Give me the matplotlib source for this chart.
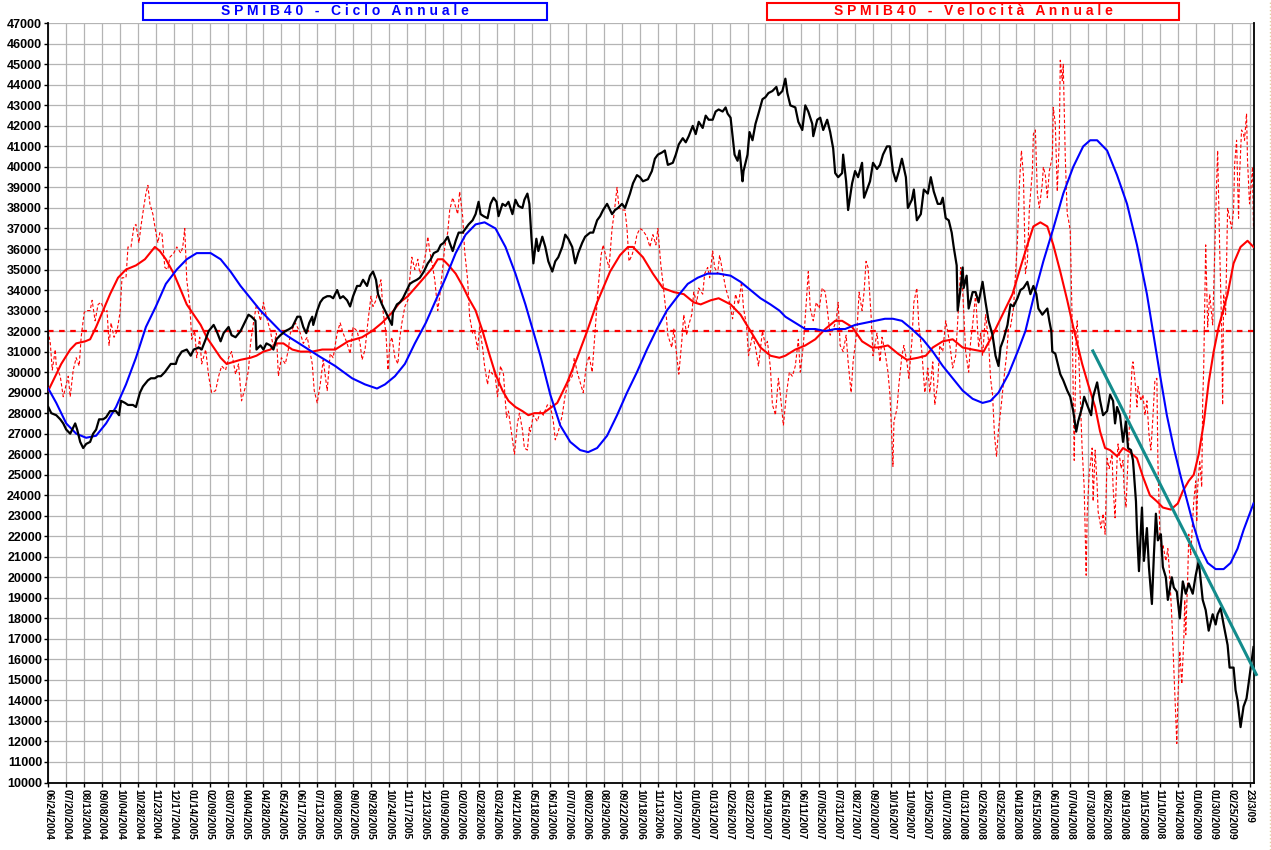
import matplotlib

matplotlib.use("Agg")
import matplotlib.pyplot as plt
import numpy as np
from matplotlib.lines import Line2D
from matplotlib.patches import Rectangle

plt.rcParams["font.family"] = ["Liberation Sans", "DejaVu Sans"]

# etichette dell'asse x (una ogni 18 giorni di borsa, l'ultima e' l'ultimo giorno)
DATE = [
    "06/24/2004", "07/20/2004", "08/13/2004", "09/08/2004", "10/04/2004", "10/28/2004",
    "11/23/2004", "12/17/2004", "01/14/2005", "02/09/2005", "03/07/2005", "04/04/2005",
    "04/28/2005", "05/24/2005", "06/17/2005", "07/13/2005", "08/08/2005", "09/02/2005",
    "09/28/2005", "10/24/2005", "11/17/2005", "12/13/2005", "01/09/2006", "02/02/2006",
    "02/28/2006", "03/24/2006", "04/21/2006", "05/18/2006", "06/13/2006", "07/07/2006",
    "08/02/2006", "08/29/2006", "09/22/2006", "10/18/2006", "11/13/2006", "12/07/2006",
    "01/05/2007", "01/31/2007", "02/26/2007", "03/22/2007", "04/19/2007", "05/16/2007",
    "06/11/2007", "07/05/2007", "07/31/2007", "08/27/2007", "09/20/2007", "10/16/2007",
    "11/09/2007", "12/05/2007", "01/07/2008", "01/31/2008", "02/26/2008", "03/25/2008",
    "04/18/2008", "05/15/2008", "06/10/2008", "07/04/2008", "07/30/2008", "08/26/2008",
    "09/19/2008", "10/15/2008", "11/10/2008", "12/04/2008", "01/06/2009", "01/30/2009",
    "02/25/2009", "23/3/09",
]
PASSO = 18
ULTIMO_GIORNO = 1206
FINE_ASSE = 1210.5

# (giorno di borsa, valore)
PREZZO = [
    (0, 28300), (3, 28000), (8, 27900), (12, 27700), (15, 27500), (18, 27200), (22, 27000),
    (25, 27300), (27, 27500), (29, 27200), (32, 26600), (35, 26300), (38, 26500), (42, 26600),
    (45, 27000), (48, 27200), (51, 27700), (55, 27700), (58, 27800), (62, 28100), (65, 28100),
    (68, 28100), (71, 27900), (73, 28600), (77, 28500), (80, 28400), (85, 28400), (88, 28300),
    (92, 29000), (95, 29300), (100, 29600), (103, 29700), (107, 29700), (110, 29800),
    (113, 29800), (117, 30000), (120, 30200), (123, 30400), (128, 30400), (130, 30700),
    (134, 31000), (139, 31100), (143, 30800), (146, 31100), (151, 31200), (154, 31100),
    (158, 31600), (161, 32000), (166, 32300), (169, 32000), (173, 31500), (176, 31900),
    (181, 32200), (184, 31800), (188, 31700), (193, 32000), (197, 32400), (201, 32800),
    (204, 32700), (208, 32500), (209, 31100), (213, 31300), (216, 31100), (219, 31400),
    (223, 31300), (226, 31100), (229, 31600), (233, 31800), (238, 32000), (242, 32100),
    (245, 32200), (250, 32700), (253, 32700), (256, 32200), (259, 31900), (262, 32400),
    (265, 32700), (266, 32300), (270, 33000), (273, 33400), (276, 33600), (280, 33700),
    (283, 33700), (286, 33600), (290, 34000), (293, 33600), (296, 33700), (300, 33500),
    (303, 33200), (306, 33700), (310, 34200), (313, 34200), (316, 34500), (320, 34200),
    (323, 34700), (326, 34900), (329, 34500), (331, 33800), (335, 33300), (338, 33000),
    (341, 32700), (345, 32300), (346, 32900), (350, 33300), (353, 33400), (356, 33600),
    (360, 34000), (363, 34300), (366, 34400), (370, 34500), (373, 34600), (377, 34900),
    (381, 35300), (384, 35500), (387, 35800), (391, 35900), (394, 36200), (397, 36300),
    (401, 36600), (403, 36300), (406, 35900), (409, 36400), (412, 36800), (416, 36800),
    (419, 37000), (422, 37200), (426, 37400), (429, 37700), (432, 38300), (434, 37700),
    (437, 37600), (441, 37500), (444, 38200), (447, 38500), (450, 38300), (452, 37600),
    (456, 38200), (459, 38100), (462, 38300), (466, 37700), (469, 38400), (472, 38100),
    (476, 38000), (478, 38400), (481, 38700), (483, 38200), (485, 36600), (487, 35300),
    (490, 36500), (492, 35900), (496, 36600), (499, 36100), (502, 35400), (506, 34900),
    (509, 35400), (512, 35600), (516, 36100), (519, 36700), (522, 36500), (526, 36100),
    (529, 35300), (532, 35800), (536, 36300), (539, 36600), (544, 36800), (547, 36800),
    (551, 37400), (554, 37600), (557, 37900), (561, 38200), (566, 37700), (569, 37900),
    (572, 38000), (576, 38200), (579, 38000), (584, 38700), (587, 39200), (591, 39600),
    (594, 39500), (597, 39300), (602, 39400), (606, 39800), (609, 40400), (612, 40600),
    (616, 40700), (619, 40800), (622, 40100), (627, 40200), (630, 40600), (633, 41100),
    (637, 41400), (640, 41200), (643, 41500), (647, 42000), (650, 41600), (653, 42200),
    (657, 41900), (660, 42500), (663, 42300), (667, 42300), (670, 42700), (673, 42800),
    (677, 42700), (680, 42900), (682, 42600), (685, 42400), (687, 41500), (689, 40600),
    (692, 40300), (694, 40800), (697, 39300), (698, 39800), (702, 40600), (704, 41700),
    (707, 41300), (710, 42100), (713, 42600), (717, 43300), (720, 43400), (723, 43600),
    (727, 43700), (731, 43900), (733, 43500), (737, 43700), (740, 44300), (742, 43600),
    (745, 43000), (750, 42900), (753, 42200), (757, 41800), (760, 43000), (763, 42700),
    (767, 42100), (768, 41500), (772, 42300), (775, 42400), (778, 41800), (782, 42300),
    (785, 41700), (788, 40900), (790, 39700), (793, 39500), (797, 39700), (798, 40600),
    (801, 39300), (803, 37900), (807, 39200), (810, 39800), (813, 39500), (817, 40200),
    (819, 38500), (822, 38900), (825, 39300), (828, 40200), (832, 39900), (835, 40100),
    (838, 40600), (842, 41000), (845, 41000), (848, 39800), (851, 39300), (854, 39800),
    (857, 40400), (861, 39500), (863, 38000), (867, 38400), (869, 38900), (872, 37400),
    (876, 37700), (879, 38900), (883, 38700), (886, 39500), (889, 38800), (893, 38200),
    (896, 38200), (898, 38500), (901, 37500), (904, 37400), (907, 36800), (909, 36100),
    (912, 35200), (913, 33000), (916, 34100), (918, 35100), (919, 34100), (922, 34700),
    (924, 33100), (928, 33900), (931, 33900), (934, 33400), (938, 34400), (941, 33400),
    (944, 32500), (948, 31800), (951, 30800), (954, 30300), (956, 31200), (959, 31600),
    (963, 32300), (966, 33300), (969, 33200), (973, 33600), (976, 34000), (979, 34100),
    (983, 34400), (986, 33800), (989, 34200), (992, 33800), (994, 33100), (998, 32800),
    (1003, 33100), (1005, 32500), (1007, 32000), (1008, 31000), (1011, 30900), (1016, 29900),
    (1019, 29600), (1023, 29100), (1026, 28800), (1029, 28100), (1032, 27100), (1034, 27600),
    (1038, 28300), (1040, 28800), (1043, 28400), (1047, 27900), (1049, 28800), (1053, 29500),
    (1056, 28600), (1059, 27900), (1063, 28100), (1066, 28900), (1069, 28600), (1071, 27500),
    (1073, 28300), (1076, 27900), (1079, 26600), (1082, 27600), (1084, 26300), (1087, 26200),
    (1089, 25700), (1092, 23700), (1093, 22300), (1095, 20300), (1098, 23400), (1100, 20800),
    (1103, 22400), (1105, 20500), (1108, 18700), (1110, 21100), (1112, 23100), (1114, 21800),
    (1117, 22100), (1119, 20500), (1122, 20000), (1124, 18900), (1128, 20000), (1130, 19500),
    (1133, 19300), (1136, 18000), (1139, 19800), (1142, 19200), (1145, 19700), (1149, 19200),
    (1152, 20100), (1155, 20800), (1159, 18900), (1162, 18400), (1165, 17400), (1169, 18200),
    (1172, 17700), (1174, 18200), (1177, 18500), (1180, 17700), (1184, 16700), (1186, 15600),
    (1190, 15600), (1192, 14500), (1194, 14000), (1197, 12700), (1200, 13700), (1203, 14100),
    (1205, 14800), (1208, 15900), (1210, 16600),
]

CICLO = [
    (0, 29200), (8, 28500), (18, 27500), (28, 27000), (38, 26800), (48, 26900), (58, 27500),
    (68, 28300), (78, 29400), (88, 30700), (98, 32200), (108, 33200), (118, 34300),
    (129, 35000), (139, 35500), (149, 35800), (156, 35800), (163, 35800), (173, 35500),
    (183, 34900), (193, 34200), (203, 33600), (213, 33000), (223, 32500), (233, 32000),
    (242, 31700), (255, 31300), (271, 30800), (288, 30300), (305, 29700), (318, 29400),
    (330, 29200), (338, 29400), (348, 29800), (358, 30400), (368, 31400), (379, 32400),
    (389, 33500), (399, 34600), (409, 35800), (419, 36700), (429, 37200), (438, 37300),
    (449, 37000), (459, 36100), (469, 34800), (479, 33300), (488, 31800), (494, 30800),
    (504, 28900), (514, 27400), (524, 26600), (534, 26200), (542, 26100), (551, 26300),
    (561, 26900), (571, 27900), (581, 29000), (591, 30000), (601, 31100), (611, 32100),
    (621, 33000), (632, 33700), (642, 34300), (652, 34600), (662, 34800), (673, 34800),
    (685, 34700), (695, 34400), (705, 34000), (715, 33600), (725, 33300), (734, 33000),
    (740, 32700), (750, 32400), (760, 32100), (770, 32100), (780, 32000), (790, 32100),
    (800, 32100), (810, 32300), (820, 32400), (830, 32500), (840, 32600), (848, 32600),
    (857, 32500), (867, 32100), (878, 31600), (888, 31000), (898, 30300), (908, 29700),
    (918, 29100), (928, 28700), (938, 28500), (946, 28600), (954, 29000), (964, 29900),
    (974, 31100), (981, 32000), (989, 33600), (999, 35400), (1009, 37000), (1019, 38700),
    (1029, 40000), (1039, 41000), (1046, 41300), (1053, 41300), (1063, 40800), (1073, 39600),
    (1083, 38200), (1093, 36200), (1103, 33800), (1109, 32000), (1116, 29900), (1123, 27900),
    (1130, 26300), (1137, 24900), (1144, 23600), (1150, 22500), (1157, 21400), (1164, 20700),
    (1172, 20400), (1180, 20400), (1187, 20700), (1194, 21400), (1200, 22300), (1207, 23200),
    (1210, 23600),
]

VELOCITA_MEDIA = [
    (0, 29100), (7, 29800), (13, 30400), (22, 31100), (28, 31400), (37, 31500), (42, 31600),
    (48, 32200), (55, 33000), (62, 33800), (70, 34600), (78, 35000), (88, 35200), (97, 35500),
    (102, 35800), (107, 36100), (112, 35900), (118, 35500), (126, 34800), (133, 34000),
    (139, 33300), (146, 32800), (153, 32300), (159, 31700), (166, 31200), (173, 30700),
    (179, 30400), (186, 30500), (193, 30600), (203, 30700), (209, 30800), (216, 31000),
    (223, 31100), (229, 31400), (236, 31400), (245, 31100), (253, 31000), (265, 31000),
    (275, 31100), (288, 31100), (301, 31500), (315, 31700), (325, 32000), (335, 32400),
    (345, 32900), (353, 33400), (361, 33700), (370, 34200), (379, 34700), (386, 35100),
    (391, 35500), (396, 35500), (402, 35200), (409, 34800), (416, 34200), (422, 33600),
    (429, 33000), (436, 32000), (442, 31000), (449, 29900), (456, 29100), (462, 28600),
    (469, 28300), (476, 28100), (482, 27900), (488, 28000), (497, 28000), (511, 28500),
    (521, 29500), (531, 30700), (541, 32000), (551, 33400), (564, 34900), (574, 35700),
    (582, 36100), (587, 36100), (597, 35600), (607, 34800), (617, 34100), (628, 33900),
    (638, 33800), (648, 33400), (655, 33300), (665, 33500), (673, 33600), (685, 33300),
    (695, 32800), (705, 32000), (715, 31200), (725, 30800), (734, 30700), (740, 30800),
    (750, 31100), (760, 31300), (770, 31600), (780, 32100), (790, 32500), (797, 32500),
    (807, 32200), (817, 31500), (827, 31200), (833, 31200), (843, 31300), (853, 30900),
    (862, 30600), (873, 30700), (881, 30800), (888, 31200), (898, 31500), (908, 31600),
    (918, 31200), (928, 31100), (939, 31000), (948, 31800), (958, 32800), (968, 33800),
    (976, 35100), (983, 36200), (989, 37100), (996, 37300), (1003, 37100), (1009, 36200),
    (1016, 34900), (1023, 33500), (1029, 32200), (1038, 30400), (1044, 29400), (1051, 28300),
    (1056, 27100), (1061, 26300), (1066, 26200), (1073, 25900), (1079, 26300), (1086, 26100),
    (1093, 25800), (1099, 24900), (1106, 24000), (1113, 23700), (1119, 23400), (1127, 23300),
    (1134, 23600), (1139, 24200), (1145, 24700), (1150, 25000), (1155, 26000), (1160, 27500),
    (1165, 29500), (1170, 31000), (1175, 32200), (1184, 33800), (1190, 35300), (1197, 36100),
    (1204, 36400), (1210, 36100),
]

VELOCITA = [
    (0, 32000), (2, 31400), (4, 30100), (7, 31100), (8, 30300), (12, 29800), (15, 28800),
    (18, 29400), (20, 29800), (22, 28800), (25, 30100), (28, 30700), (31, 30300), (33, 31700),
    (36, 32900), (38, 33000), (42, 33000), (44, 33500), (47, 32500), (50, 33300), (53, 33400),
    (57, 32900), (59, 33000), (61, 31300), (63, 32400), (66, 31700), (69, 32000), (72, 32900),
    (74, 34600), (78, 34600), (80, 36100), (83, 36100), (86, 37100), (88, 37200), (91, 36300),
    (93, 37100), (96, 38100), (98, 38700), (100, 39100), (102, 38200), (105, 37700),
    (108, 36800), (110, 36300), (112, 36800), (114, 36800), (117, 35100), (120, 35000),
    (122, 35600), (126, 35800), (129, 36100), (133, 35800), (135, 36100), (137, 37000),
    (139, 34500), (142, 33300), (144, 31600), (147, 32000), (149, 30700), (152, 31700),
    (154, 30400), (158, 31100), (161, 29800), (164, 29000), (168, 29100), (171, 29800),
    (174, 30300), (178, 30100), (181, 30700), (184, 31000), (188, 29900), (191, 30400),
    (194, 28600), (198, 29300), (201, 30100), (203, 31400), (206, 32400), (209, 33300),
    (213, 32500), (216, 33400), (219, 32700), (223, 32000), (226, 31200), (229, 31900),
    (231, 29800), (234, 30700), (238, 30400), (241, 31100), (243, 31900), (248, 32400),
    (253, 31900), (256, 31400), (260, 31700), (265, 30400), (267, 29100), (270, 28500),
    (273, 29400), (276, 30600), (280, 29100), (283, 30900), (286, 30700), (290, 31900),
    (293, 32400), (296, 31900), (300, 31400), (303, 30900), (306, 32200), (310, 32000),
    (313, 31400), (315, 30600), (318, 31100), (321, 32500), (324, 33700), (326, 33200),
    (329, 33500), (331, 34000), (334, 34500), (336, 33000), (339, 31900), (341, 30100),
    (343, 31400), (345, 31700), (348, 30700), (351, 30400), (353, 31700), (355, 32400),
    (358, 33200), (361, 33500), (363, 34600), (365, 35600), (368, 35000), (371, 35500),
    (373, 34800), (376, 35100), (379, 35800), (381, 36600), (383, 35900), (386, 35100),
    (388, 34500), (391, 33000), (393, 33700), (396, 35100), (398, 36100), (401, 36800),
    (403, 37900), (406, 38500), (408, 38200), (411, 37700), (413, 38800), (416, 37600),
    (418, 35900), (421, 34500), (423, 32700), (426, 31900), (428, 32000), (431, 31100),
    (433, 32200), (436, 31200), (438, 30300), (441, 29400), (443, 30100), (446, 29900),
    (448, 30100), (451, 28800), (454, 30300), (457, 29900), (460, 27800), (462, 28100),
    (466, 26700), (468, 26000), (471, 27500), (473, 28000), (476, 27200), (478, 26300),
    (481, 26200), (483, 27300), (484, 27100), (487, 27900), (491, 27600), (494, 28100),
    (497, 27900), (501, 28400), (504, 28400), (507, 27600), (509, 26700), (512, 27100),
    (516, 27900), (519, 28900), (522, 29500), (526, 29800), (528, 30700), (531, 30000),
    (534, 29500), (537, 29000), (540, 30300), (543, 30800), (546, 30000), (549, 32000),
    (552, 34100), (555, 35700), (557, 36200), (560, 35600), (563, 35100), (566, 37000),
    (568, 37700), (571, 39000), (573, 38000), (576, 37900), (579, 37900), (581, 37000),
    (583, 35400), (586, 35700), (589, 36200), (591, 36700), (594, 37000), (597, 36900),
    (601, 36600), (604, 36100), (607, 36700), (610, 36200), (612, 37000), (615, 35200),
    (617, 34400), (620, 33000), (622, 31800), (626, 31200), (628, 32100), (631, 30800),
    (633, 29900), (636, 31500), (638, 32800), (641, 31800), (643, 32300), (646, 32800),
    (648, 33900), (651, 33400), (653, 34100), (657, 33800), (659, 34800), (662, 35100),
    (664, 34600), (667, 35900), (669, 35100), (672, 34800), (674, 35700), (677, 34900),
    (680, 34100), (683, 33600), (687, 32600), (690, 33800), (693, 33300), (696, 34400),
    (698, 33100), (701, 32300), (703, 30800), (707, 31800), (710, 31200), (713, 30300),
    (717, 32000), (720, 31300), (722, 31500), (725, 30200), (727, 28400), (729, 28100),
    (730, 27900), (733, 29700), (735, 28900), (738, 27400), (741, 28900), (744, 30000),
    (747, 29800), (750, 30300), (753, 31600), (755, 30000), (758, 31300), (761, 33400),
    (763, 34900), (765, 33100), (768, 32500), (771, 33400), (774, 33100), (777, 34100),
    (780, 33900), (782, 33100), (785, 31800), (788, 32100), (791, 32500), (793, 33400),
    (795, 31300), (798, 31000), (801, 31800), (803, 30500), (806, 29000), (808, 30500),
    (812, 32100), (814, 33900), (817, 33000), (819, 33900), (821, 35400), (823, 35100),
    (826, 32800), (828, 30800), (832, 31900), (835, 30500), (837, 31700), (840, 31000),
    (843, 30000), (845, 28900), (847, 26700), (848, 25400), (849, 27600), (852, 28200),
    (854, 29400), (857, 30800), (859, 31300), (862, 30500), (864, 29700), (867, 31500),
    (869, 33400), (872, 34100), (874, 32300), (877, 31000), (880, 29000), (883, 30200),
    (885, 29000), (888, 30500), (890, 28400), (893, 29500), (895, 31300), (898, 31000),
    (901, 32500), (904, 31700), (906, 31000), (908, 30200), (911, 30800), (914, 33300),
    (916, 35100), (918, 34000), (921, 31000), (924, 30000), (926, 31500), (928, 32300),
    (931, 33800), (934, 31200), (936, 31900), (938, 30800), (941, 32800), (944, 31500),
    (946, 29700), (948, 28900), (950, 26900), (952, 25900), (954, 27200), (957, 28500),
    (959, 29500), (962, 30800), (964, 32100), (966, 32200), (969, 33100), (973, 36400),
    (975, 39200), (977, 40800), (979, 39600), (981, 34800), (983, 35400), (985, 38000),
    (988, 39800), (989, 41600), (991, 41800), (993, 38700), (995, 38000), (998, 39200),
    (999, 40000), (1001, 39600), (1003, 38500), (1005, 39800), (1008, 40500), (1009, 42900),
    (1011, 42100), (1013, 38800), (1015, 41300), (1016, 45200), (1018, 44200), (1019, 45000),
    (1021, 40500), (1023, 37700), (1024, 37500), (1026, 36900), (1028, 32300), (1030, 25700),
    (1032, 32000), (1033, 32500), (1035, 30200), (1038, 26200), (1040, 24400), (1042, 20100),
    (1043, 23100), (1045, 25000), (1048, 26300), (1049, 23700), (1051, 26200), (1053, 24500),
    (1054, 23200), (1057, 22400), (1059, 23100), (1061, 22100), (1063, 25800), (1065, 25300),
    (1068, 26000), (1069, 24400), (1071, 22900), (1073, 25700), (1074, 26500), (1077, 25300),
    (1079, 25700), (1080, 24400), (1082, 23400), (1084, 25800), (1086, 28100), (1088, 30200),
    (1089, 30500), (1091, 29600), (1093, 28300), (1094, 29300), (1097, 28600), (1099, 28900),
    (1101, 27900), (1103, 28600), (1105, 27000), (1107, 26200), (1109, 27800), (1111, 29600),
    (1113, 29700), (1114, 25700), (1116, 22100), (1118, 21100), (1119, 21600), (1122, 20800),
    (1124, 21400), (1126, 20000), (1128, 18000), (1130, 15600), (1132, 13200), (1133, 11900),
    (1134, 14000), (1136, 16400), (1138, 14800), (1140, 16900), (1141, 18900), (1142, 17200),
    (1144, 20100), (1145, 22100), (1147, 21100), (1149, 22900), (1150, 23700), (1152, 24700),
    (1153, 22700), (1154, 24400), (1156, 25700), (1158, 24400), (1159, 28600), (1160, 30200),
    (1162, 36200), (1164, 32200), (1166, 33800), (1169, 32300), (1171, 35700), (1173, 39300),
    (1174, 40800), (1176, 36100), (1178, 32200), (1179, 28400), (1180, 33800), (1182, 32800),
    (1184, 38000), (1186, 37500), (1188, 37000), (1190, 37900), (1191, 40100), (1193, 41300),
    (1195, 37500), (1196, 39600), (1198, 41800), (1200, 41600), (1201, 41300), (1203, 42600),
    (1204, 40300), (1206, 38200), (1208, 39300), (1209, 40000), (1210, 37000),
]

LIVELLO_VELOCITA = 32000
TRENDLINE = [(1048, 31100), (1213.5, 15200)]

Y_MIN, Y_MAX, Y_PASSO = 10000, 47000, 1000


def xy(punti):
    a = np.array(punti, dtype=float)
    return a[:, 0], a[:, 1]


W, H = 1271, 850
fig = plt.figure(figsize=(W / 100, H / 100), dpi=100)
fig.patch.set_facecolor("white")
ax = fig.add_axes([48.3 / W, 1 - 782.5 / H, (1254 - 48.3) / W, (782.5 - 23.3) / H])

tick_x = list(range(0, PASSO * (len(DATE) - 1), PASSO)) + [ULTIMO_GIORNO]

# griglia
for gx in tick_x:
    ax.axvline(gx, color="#b4b4b4", lw=0.9, zorder=0)
for gy in range(Y_MIN, Y_MAX + 1, Y_PASSO):
    ax.axhline(gy, color="#b4b4b4", lw=0.9, zorder=0)

vx, vy = xy(VELOCITA)
ax.plot(vx, vy, color="#ff0000", lw=0.8, ls=(0, (3, 2)), zorder=2)
ax.axhline(LIVELLO_VELOCITA, color="#ff0000", lw=1.6, ls=(0, (2.5, 2.5)), zorder=2)
mx, my = xy(VELOCITA_MEDIA)
ax.plot(mx, my, color="#ff0000", lw=1.5, zorder=3)
cx, cy = xy(CICLO)
ax.plot(cx, cy, color="#0000ff", lw=1.5, zorder=4)
px, py = xy(PREZZO)
ax.plot(px, py, color="black", lw=1.6, zorder=5)
tx, ty = xy(TRENDLINE)
ax.plot(tx, ty, color="#138c8c", lw=2.2, zorder=6, clip_on=False, solid_capstyle="butt")

ax.set_xlim(0, FINE_ASSE)
ax.set_ylim(Y_MIN, Y_MAX)
ax.set_xticks(tick_x)
ax.set_xticklabels(DATE, rotation=270, fontsize=7.3, fontweight="bold")
ax.set_yticks(range(Y_MIN, Y_MAX + 1, Y_PASSO))
ax.set_yticklabels([str(v) for v in range(Y_MIN, Y_MAX + 1, Y_PASSO)], fontsize=9, fontweight="bold")
ax.tick_params(axis="both", direction="out", length=3, width=1, pad=1.5, colors="black")

ax.spines["top"].set_visible(False)
for s in ("left", "bottom", "right"):
    ax.spines[s].set_linewidth(1.3)
    ax.spines[s].set_color("black")

# riquadri dei titoli
titoli = [
    ("S P M I B 4 0   -   C i c l o   A n n u a l e", "#0000ff", 143, 547),
    ("S P M I B 4 0   -   V e l o c i t à   A n n u a l e", "#ff0000", 767, 1179),
]
for testo, colore, x0, x1 in titoli:
    fig.add_artist(Rectangle((x0 / W, 1 - 19.5 / H), (x1 - x0) / W, 16.5 / H,
                             transform=fig.transFigure, fill=False, edgecolor=colore, lw=1.5))
    fig.text((x0 + x1) / 2 / W, 1 - 11.3 / H, testo, color=colore, fontsize=10,
             fontweight="bold", ha="center", va="center")

fig.add_artist(Line2D([1269.5 / W] * 2, [0, 1], transform=fig.transFigure,
                      color="#e2cf9f", lw=1, ls=":"))

fig.savefig("out.png", dpi=100)
plt.close(fig)
